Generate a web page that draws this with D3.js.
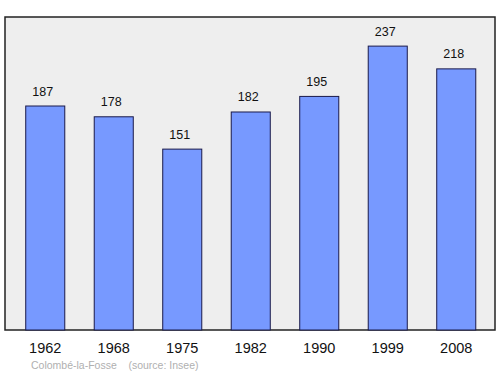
<!DOCTYPE html>
<html>
<head>
<meta charset="utf-8">
<script src="https://cdn.jsdelivr.net/npm/d3@7"></script>
<style>
  body { margin: 0; background: #fff; }
  text { font-family: "Liberation Sans", Arial, sans-serif; }
</style>
</head>
<body>
<svg id="chart" width="500" height="374"></svg>
<script>
const years = ['1962', '1968', '1975', '1982', '1990', '1999', '2008'];
const population = [187, 178, 151, 182, 195, 237, 218];
const townName = 'Colombé-la-Fosse';
const sourceNote = '(source: Insee)';

const svg = d3.select('#chart');
const plot = { left: 5, top: 17, right: 495, bottom: 330 };

const x = d3.scaleBand()
  .domain(years)
  .range([11, 490.5])
  .paddingInner(0.43)
  .paddingOuter(0.215);

const y = d3.scaleLinear()
  .domain([0, 261.3])
  .range([plot.bottom, plot.top]);

// plot background
svg.append('rect')
  .attr('x', plot.left)
  .attr('y', plot.top)
  .attr('width', plot.right - plot.left)
  .attr('height', plot.bottom - plot.top)
  .attr('fill', '#eeeeee')
  .attr('stroke', '#222')
  .attr('stroke-width', 1.5);

const data = years.map((yr, i) => ({ year: yr, value: population[i] }));

svg.append('g').selectAll('rect')
  .data(data)
  .enter().append('rect')
  .attr('x', d => x(d.year))
  .attr('y', d => y(d.value))
  .attr('width', x.bandwidth())
  .attr('height', d => y(0) - y(d.value))
  .attr('fill', '#7799ff')
  .attr('stroke', '#1a1a4a')
  .attr('stroke-width', 1);

// value labels (sit a little left of the bar centre, as in the original)
svg.append('g').selectAll('text')
  .data(data)
  .enter().append('text')
  .attr('x', d => x(d.year) + x.bandwidth() / 2 - 2.5)
  .attr('y', d => y(d.value) - 10.5)
  .attr('text-anchor', 'middle')
  .style('font-size', '12.5px')
  .attr('fill', '#111')
  .text(d => d.value);

// year labels
svg.append('g').selectAll('text')
  .data(years)
  .enter().append('text')
  .attr('x', d => x(d) + x.bandwidth() / 2)
  .attr('y', 353)
  .attr('text-anchor', 'middle')
  .style('font-size', '14.5px')
  .attr('fill', '#111')
  .text(d => d);

svg.append('text')
  .attr('x', 31)
  .attr('y', 369)
  .style('font-size', '10.5px')
  .attr('fill', '#b0b0b0')
  .text(townName + '\u00a0\u00a0\u00a0\u00a0' + sourceNote);
</script>
</body>
</html>
